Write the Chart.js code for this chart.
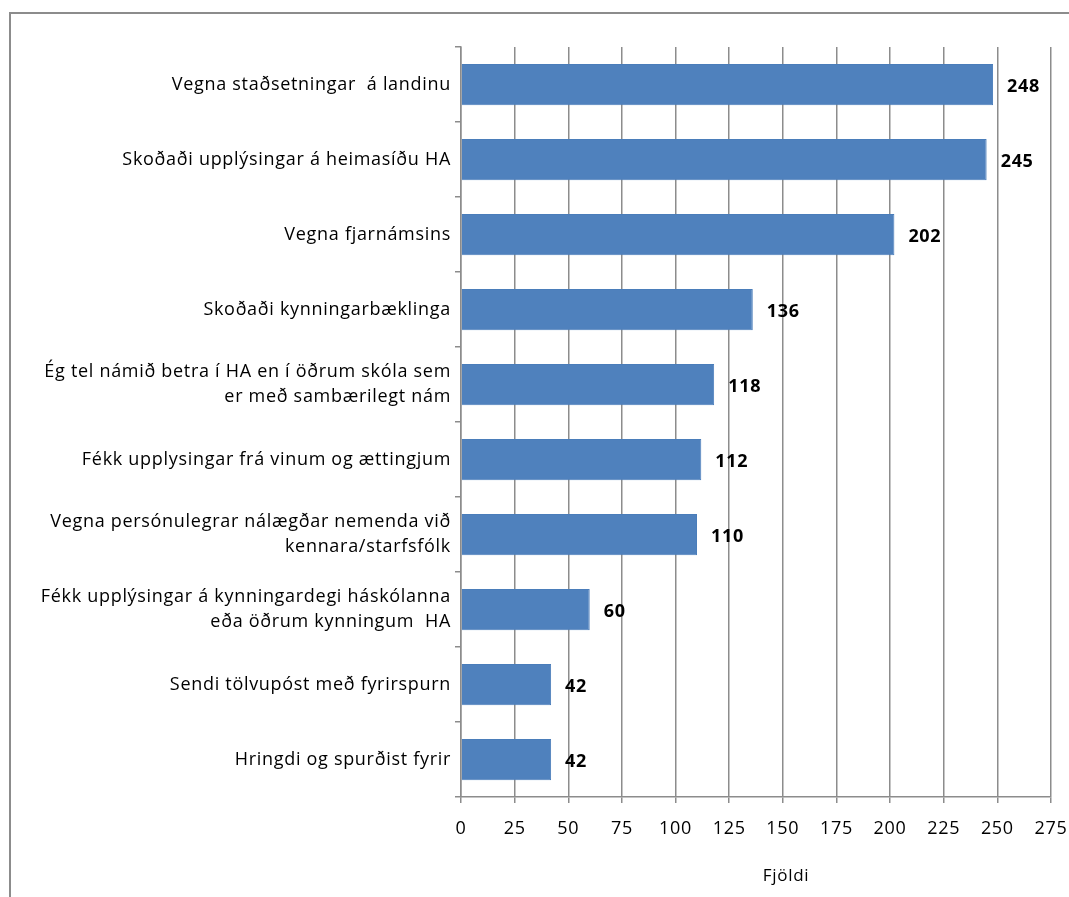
<!DOCTYPE html>
<html>
<head>
<meta charset="utf-8">
<script src="https://cdn.jsdelivr.net/npm/chart.js@4"></script>
<style>
  body { margin: 0; background: #fff; overflow: hidden; }
  #frame { position: absolute; left: 9px; top: 12px; width: 1100px; height: 1000px;
           border-left: 2px solid #8c8c8c; border-top: 2px solid #8c8c8c; }
  #wrap { position: absolute; left: 0; top: 0; width: 1069px; height: 897px; }
</style>
</head>
<body>
<div id="frame"></div>
<div id="wrap"><canvas id="chartFjoldi"></canvas></div>
<script>
const categories = [
  "Vegna staðsetningar  á landinu",
  "Skoðaði upplýsingar á heimasíðu HA",
  "Vegna fjarnámsins",
  "Skoðaði kynningarbæklinga",
  ["Ég tel námið betra í HA en í öðrum skóla sem", "er með sambærilegt nám"],
  "Fékk upplysingar frá vinum og ættingjum",
  ["Vegna persónulegrar nálægðar nemenda við", "kennara/starfsfólk"],
  ["Fékk upplýsingar á kynningardegi háskólanna", "eða öðrum kynningum  HA"],
  "Sendi tölvupóst með fyrirspurn",
  "Hringdi og spurðist fyrir"
];
const values = [248, 245, 202, 136, 118, 112, 110, 60, 42, 42];
const xTicks = [0, 25, 50, 75, 100, 125, 150, 175, 200, 225, 250, 275];
const xTitle = "Fjöldi";

const fontFamily = "'Open Sans', Lato, sans-serif";

// Calibri-like spacing on the canvas text
const spacing = {
  id: "spacing",
  beforeUpdate(chart) { chart.ctx.letterSpacing = "0.7px"; },
  beforeLayout(chart) { chart.ctx.letterSpacing = "0.7px"; },
  beforeDraw(chart) { chart.ctx.letterSpacing = "0.7px"; }
};

// value labels to the right of each bar + axis title
const barLabels = {
  id: "barLabels",
  afterDatasetsDraw(chart) {
    const ctx = chart.ctx;
    const meta = chart.getDatasetMeta(0);
    ctx.save();
    ctx.font = "bold 18px " + fontFamily;
    ctx.fillStyle = "#000";
    ctx.textBaseline = "middle";
    ctx.textAlign = "left";
    meta.data.forEach((bar, i) => {
      ctx.fillText(values[i], bar.x + 14, bar.y + 2);
    });
    ctx.font = "17px " + fontFamily;
    ctx.textAlign = "center";
    ctx.fillText(xTitle, 786, 876);
    ctx.restore();
  }
};

const chart = new Chart("chartFjoldi", {
  type: "bar",
  data: {
    labels: categories,
    datasets: [{
      data: values,
      backgroundColor: "#4f81bd",
      borderColor: "#4a7dba",
      borderWidth: 1,
      barPercentage: 0.55,
      categoryPercentage: 1
    }]
  },
  plugins: [spacing, barLabels],
  options: {
    indexAxis: "y",
    responsive: true,
    maintainAspectRatio: false,
    animation: false,
    layout: { padding: { top: 47, right: 0, left: 0, bottom: 0 } },
    plugins: {
      legend: { display: false },
      tooltip: { enabled: false }
    },
    scales: {
      x: {
        min: 0,
        max: 275,
        afterBuildTicks(scale) {
          scale.ticks = xTicks.map(v => ({ value: v }));
        },
        afterFit(scale) {
          scale.height = 100;
          scale.paddingRight = 18;
          scale.paddingLeft = 0;
        },
        grid: {
          color: "#8c8c8c",
          lineWidth: 1.5,
          tickLength: 6,
          drawTicks: true
        },
        border: { color: "#8c8c8c", width: 1.5 },
        ticks: {
          color: "#000",
          font: { family: fontFamily, size: 18 },
          padding: 15
        }
      },
      y: {
        afterFit(scale) {
          scale.width = 461;
        },
        grid: {
          offset: true,
          drawOnChartArea: false,
          tickLength: 6,
          color: "#8c8c8c",
          lineWidth: 1.5
        },
        border: { color: "#8c8c8c", width: 1.5 },
        ticks: {
          color: "#000",
          font: { family: fontFamily, size: 18, lineHeight: 1.4 },
          padding: 4,
          autoSkip: false
        }
      }
    }
  }
});
</script>
</body>
</html>
